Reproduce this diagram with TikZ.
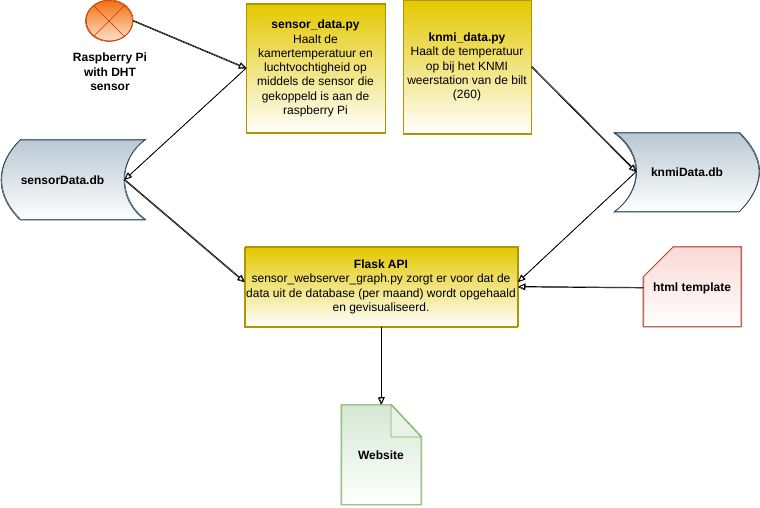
\documentclass[tikz,border=0pt]{standalone}
\usepackage{fontspec}
\setmainfont{Liberation Sans}
\usetikzlibrary{shapes.geometric,arrows.meta}

\definecolor{yellowtop}{HTML}{E3C800}
\definecolor{yellowline}{HTML}{B09500}
\definecolor{bluetop}{HTML}{BAC8D3}
\definecolor{blueline}{HTML}{23445D}
\definecolor{redtop}{HTML}{FAD9D5}
\definecolor{redline}{HTML}{AE4132}
\definecolor{greentop}{HTML}{D5E8D4}
\definecolor{greenline}{HTML}{82B366}
\definecolor{orangetop}{HTML}{F2700F}
\definecolor{orangeline}{HTML}{C73500}

\tikzset{
	sketch/.style={postaction={draw,transform canvas={shift={(0.7pt,0.6pt)}}}},
	pytext/.style={draw=yellowline,top color=yellowtop,bottom color=white,semithick,sketch,inner sep=0pt,align=center,font=\fontsize{12}{14.3}\selectfont},
	dbshape/.style={draw=blueline,top color=bluetop,bottom color=white,semithick,sketch},
	boldtext/.style={inner sep=0pt,align=center,font=\fontsize{12}{14.3}\selectfont\bfseries},
	link/.style={-{Triangle[open,length=7pt,width=6pt]},black,semithick,sketch}
}

\begin{document}
\begin{tikzpicture}[x=1pt,y=-1pt]
		\useasboundingbox (0,0) rectangle (760,507);

		% raspberry pi
		\node[ellipse,draw=orangeline,top color=orangetop,bottom color=orangetop!20,semithick,sketch,minimum width=47pt,minimum height=41pt,inner sep=0pt] (pi) at (109,21) {};
		\draw[orangeline,semithick] (pi.45) -- (pi.225);
		\draw[orangeline,semithick] (pi.135) -- (pi.315);
		\node[boldtext] (pilabel) at (110,72) {Raspberry Pi\\with DHT\\sensor};

		% python boxes
		\node[pytext,minimum width=139pt,minimum height=129pt] (sensorpy) at (315.5,68.5) {\textbf{sensor\_data.py}\\Haalt de\\kamertemperatuur en\\luchtvochtigheid op\\middels de sensor die\\gekoppeld is aan de\\raspberry Pi};
		\node[pytext,minimum width=128pt,minimum height=134pt] (knmipy) at (467,67) {\textbf{knmi\_data.py}\\Haalt de temperatuur\\op bij het KNMI\\weerstation van de bilt\\(260)};
		\node[pytext,minimum width=273pt,minimum height=80pt] (flask) at (381,287) {\textbf{Flask API}\\sensor\_webserver\_graph.py zorgt er voor dat de\\data uit de database (per maand) wordt opgehaald\\en gevisualiseerd.};

		% databases
		\draw[dbshape] (20,140) -- (145,140) .. controls (131,150) and (124,165) .. (124,180) .. controls (124,195) and (131,210) .. (145,220) -- (20,220) .. controls (8,208) and (1,195) .. (1,180) .. controls (1,165) and (8,152) .. (20,140) -- cycle;
		\node[boldtext,minimum width=123pt,minimum height=80pt] (sensordb) at (62.5,180) {sensorData.db};
		\draw[dbshape] (614,133) -- (739,133) .. controls (751,145) and (759,158) .. (759,172) .. controls (759,186) and (751,200) .. (739,212) -- (614,212) .. controls (628,202) and (636,187) .. (636,172) .. controls (636,157) and (628,143) .. (614,133) -- cycle;
		\node[boldtext,minimum width=102pt,minimum height=79pt] (knmidb) at (687,172) {knmiData.db};

		% template and website
		\draw[draw=redline,top color=redtop,bottom color=white,semithick,sketch] (673,247) -- (741,247) -- (741,327) -- (643,327) -- (643,277) -- cycle;
		\node[boldtext,minimum width=98pt,minimum height=78pt] (html) at (692,288) {html template};
		\draw[draw=greenline,top color=greentop,bottom color=white,semithick,sketch] (341,405) -- (391,405) -- (421,437) -- (421,505) -- (341,505) -- cycle;
		\draw[draw=greenline,fill=greentop!55,semithick] (391,405) -- (391,437) -- (421,437) -- cycle;
		\node[boldtext,minimum width=80pt,minimum height=100pt] (website) at (381,455) {Website};

		% connections
		\draw[link] (pi.east) -- (sensorpy.west);
		\draw[link] (sensorpy.west) -- (sensordb.east);
		\draw[link] (sensordb.east) -- (flask.178);
		\draw[link] (knmipy.east) -- (knmidb.west);
		\draw[link] (knmidb.west) -- (flask.2);
		\draw[link] (html.west) -- (flask.east);
		\draw[link] (flask.south) -- (website.north);
\end{tikzpicture}
\end{document}
